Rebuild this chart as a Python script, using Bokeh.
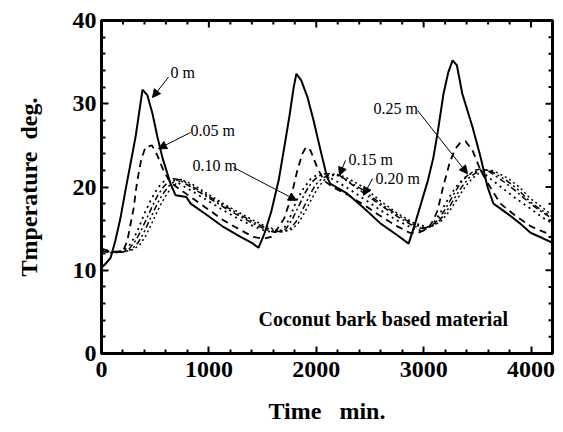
import math
from bokeh.plotting import figure
from bokeh.models import Range1d, FixedTicker, Label, Arrow, NormalHead
from bokeh.embed import file_html
from bokeh.resources import INLINE

# ---- data ----
t_0m = [0, 40, 85, 130, 177, 223, 270, 317, 382, 428, 475, 521, 568, 614, 643, 690, 790, 830, 985, 1135,
        1295, 1400, 1462, 1520, 1580, 1650, 1700, 1750, 1790, 1815, 1860, 1918, 1975, 2040, 2100, 2130, 2290, 2440, 2600, 2755,
        2860, 2920, 2980, 3040, 3090, 3130, 3185, 3230, 3270, 3310, 3360, 3455, 3530, 3595, 3650, 3780, 3900, 3995, 4100, 4200]
T_0m = [10.3, 10.8, 11.5, 13.6, 16.3, 19.6, 22.8, 26.0, 31.7, 31.0, 28.8, 26.0, 23.5, 21.6, 20.4, 19.0, 18.8, 18.0, 16.6, 15.2,
        14.0, 13.3, 12.7, 14.5, 17.0, 20.8, 24.6, 28.5, 32.0, 33.6, 32.8, 30.8, 28.0, 24.4, 21.2, 20.4, 19.2, 17.5, 15.6, 14.2,
        13.2, 15.6, 18.2, 20.8, 23.5, 26.5, 31.2, 33.8, 35.2, 34.6, 31.2, 27.2, 23.6, 20.0, 18.0, 16.8, 15.6, 14.5, 13.9, 13.3]

t_005 = [0, 100, 200, 240, 270, 300, 330, 370, 410, 470, 520, 570, 620, 660, 720, 830, 985, 1135, 1300, 1415,
         1510, 1580, 1640, 1700, 1760, 1820, 1870, 1905, 1946, 2010, 2070, 2150, 2300, 2450, 2600, 2750, 2870, 2950, 3040, 3090,
         3130, 3185, 3240, 3290, 3340, 3390, 3455, 3530, 3595, 3715, 3850, 3995, 4100, 4200]
T_005 = [12.6, 12.2, 12.3, 13.5, 15.5, 17.5, 20.5, 23.3, 24.8, 25.0, 23.8, 22.2, 21.0, 20.4, 19.8, 18.8, 17.4, 16.0, 14.8, 14.0,
         13.8, 14.0, 15.0, 16.2, 18.5, 21.8, 24.0, 24.8, 24.4, 22.3, 20.8, 20.0, 19.0, 17.8, 16.5, 15.3, 14.5, 14.5, 15.0, 16.0,
         17.2, 20.2, 22.8, 24.5, 25.3, 25.5, 24.4, 22.0, 20.5, 18.0, 16.6, 15.3, 14.7, 14.2]

t_010 = [0, 100, 200, 250, 300, 350, 400, 450, 500, 550, 600, 640, 700, 830, 985, 1135, 1300, 1415, 1510, 1580,
         1640, 1700, 1760, 1816, 1880, 1950, 2000, 2050, 2100, 2200, 2300, 2440, 2600, 2750, 2905, 2970, 3030, 3100, 3160, 3230,
         3300, 3370, 3440, 3500, 3550, 3600, 3700, 3840, 3995, 4100, 4200]
T_010 = [12.4, 12.2, 12.3, 12.8, 13.8, 15.2, 16.8, 18.2, 19.4, 20.3, 20.9, 21.0, 20.6, 19.6, 18.4, 17.2, 16.0, 15.3, 14.8, 14.6,
         14.6, 15.0, 16.5, 18.4, 19.8, 21.0, 21.4, 21.5, 21.3, 20.6, 19.8, 18.6, 17.2, 16.0, 15.0, 14.8, 15.0, 15.8, 17.0, 18.6,
         20.0, 21.0, 21.6, 21.9, 21.8, 21.2, 20.2, 18.8, 17.4, 16.4, 15.6]

t_015 = [0, 100, 200, 260, 320, 370, 420, 470, 520, 570, 620, 670, 720, 830, 985, 1135, 1300, 1415, 1510, 1600,
         1660, 1720, 1780, 1840, 1900, 1960, 2020, 2080, 2140, 2216, 2300, 2440, 2600, 2750, 2905, 2990, 3060, 3130, 3200, 3270,
         3340, 3410, 3480, 3540, 3590, 3650, 3750, 3850, 3995, 4100, 4200]
T_015 = [12.3, 12.1, 12.2, 12.6, 13.6, 14.8, 16.2, 17.6, 18.9, 19.9, 20.6, 21.0, 20.9, 20.0, 18.8, 17.6, 16.4, 15.6, 15.0, 14.6,
         14.6, 15.0, 16.2, 17.8, 19.4, 20.6, 21.3, 21.6, 21.6, 21.4, 20.6, 19.3, 17.8, 16.5, 15.3, 15.0, 15.2, 16.0, 17.3, 18.9,
         20.4, 21.4, 22.0, 22.2, 22.0, 21.5, 20.6, 19.6, 18.0, 17.0, 16.2]

t_020 = [0, 100, 200, 280, 340, 390, 440, 490, 540, 590, 640, 690, 740, 830, 985, 1135, 1300, 1415, 1510, 1620,
         1690, 1750, 1810, 1870, 1930, 1990, 2050, 2110, 2170, 2250, 2350, 2440, 2600, 2750, 2905, 3010, 3080, 3150, 3220, 3290,
         3360, 3430, 3500, 3560, 3610, 3670, 3770, 3870, 3995, 4100, 4200]
T_020 = [12.3, 12.1, 12.2, 12.5, 13.3, 14.4, 15.8, 17.2, 18.5, 19.5, 20.3, 20.8, 20.9, 20.2, 19.0, 17.8, 16.6, 15.8, 15.2, 14.7,
         14.6, 14.9, 15.8, 17.2, 18.8, 20.2, 21.0, 21.4, 21.5, 21.1, 20.3, 19.6, 18.0, 16.7, 15.5, 15.1, 15.3, 16.0, 17.2, 18.7,
         20.1, 21.2, 21.8, 22.1, 22.0, 21.6, 20.8, 19.8, 18.2, 17.2, 16.4]

t_025 = [0, 100, 200, 300, 360, 410, 460, 510, 560, 610, 660, 710, 760, 850, 985, 1135, 1300, 1415, 1510, 1640,
         1710, 1770, 1830, 1890, 1950, 2010, 2070, 2130, 2190, 2270, 2370, 2460, 2600, 2750, 2905, 3030, 3100, 3170, 3240, 3310,
         3380, 3450, 3520, 3580, 3630, 3690, 3790, 3890, 3995, 4100, 4200]
T_025 = [12.3, 12.1, 12.2, 12.5, 13.1, 14.1, 15.4, 16.8, 18.1, 19.2, 20.0, 20.6, 20.8, 20.3, 19.2, 18.0, 16.8, 16.0, 15.4, 14.8,
         14.7, 14.9, 15.6, 16.9, 18.4, 19.8, 20.8, 21.3, 21.5, 21.2, 20.5, 19.8, 18.3, 16.9, 15.7, 15.2, 15.4, 16.0, 17.1, 18.5,
         19.9, 21.0, 21.7, 22.0, 22.0, 21.7, 21.0, 20.0, 18.6, 17.6, 16.6]

label_texts = ["0 m", "0.05 m", "0.10 m", "0.15 m", "0.20 m", "0.25 m"]
label_x = [643, 829, 847, 2300, 2552, 2533]
label_y = [33.75, 26.8, 22.6, 23.3, 21.0, 29.4]
arrow_x0 = [624, 829, 1229, 2272, 2524, 2943]
arrow_y0 = [33.2, 26.55, 22.35, 23.2, 21.0, 29.2]
arrow_x1 = [475, 531, 1816, 2216, 2440, 3408]
arrow_y1 = [30.75, 24.6, 18.4, 21.4, 19.0, 21.6]

x_major = [0, 1000, 2000, 3000, 4000]
x_minor = [v for v in range(0, 4201, 200) if v % 1000 != 0]
y_major = [0, 10, 20, 30, 40]
y_minor = [v for v in range(0, 41, 2) if v % 10 != 0]
x_max = 4200
y_max = 40
x_title = "Time\u00a0\u00a0 min."
y_title = "Tmperature\u00a0 deg."

FONT = "Liberation Serif"

p = figure(width=563, height=432, output_backend="svg", toolbar_location=None,
           x_range=Range1d(0, x_max), y_range=Range1d(0, y_max),
           min_border_left=101, min_border_right=11, min_border_top=20, min_border_bottom=79)
p.background_fill_color = "white"
p.border_fill_color = "white"
p.outline_line_color = "black"
p.outline_line_width = 3
p.xgrid.visible = False
p.ygrid.visible = False

series = [
    (t_0m, T_0m, None, 2.0),
    (t_005, T_005, "7 5", 1.8),
    (t_010, T_010, "2 4", 1.8),
    (t_015, T_015, "6 3 2 3", 1.5),
    (t_020, T_020, "6 3 2 3 2 3", 1.5),
    (t_025, T_025, "2 3", 1.5),
]
for tx, ty, dash, lw in series:
    if dash is None:
        p.line(tx, ty, line_color="black", line_width=lw)
    else:
        p.line(tx, ty, line_color="black", line_width=lw, line_dash=dash)

for ax in (p.xaxis[0], p.yaxis[0]):
    ax.axis_line_width = 3
    ax.axis_line_color = "black"
    ax.major_tick_in = 7
    ax.major_tick_out = 0
    ax.minor_tick_in = 4
    ax.minor_tick_out = 0
    ax.major_tick_line_width = 2
    ax.minor_tick_line_width = 2
    ax.major_tick_line_color = "black"
    ax.minor_tick_line_color = "black"
    ax.major_label_text_font = FONT
    ax.major_label_text_font_style = "bold"
    ax.major_label_text_font_size = "24px"
    ax.major_label_text_color = "black"
    ax.axis_label_text_font = FONT
    ax.axis_label_text_font_style = "bold"
    ax.axis_label_text_font_size = "24px"
    ax.axis_label_text_color = "black"

p.xaxis.ticker = FixedTicker(ticks=x_major, minor_ticks=x_minor)
p.yaxis.ticker = FixedTicker(ticks=y_major, minor_ticks=y_minor)
p.xaxis.major_label_standoff = 8
p.yaxis.major_label_standoff = 5
p.xaxis.axis_label = x_title
p.yaxis.axis_label = y_title
p.xaxis.axis_label_standoff = 18
p.yaxis.axis_label_standoff = 28

# mirrored ticks on top and right edges
p.ray(x=x_major, y=[y_max] * len(x_major), length=7, angle=-math.pi / 2, length_units="screen",
      line_color="black", line_width=2)
p.ray(x=x_minor, y=[y_max] * len(x_minor), length=4, angle=-math.pi / 2, length_units="screen",
      line_color="black", line_width=2)
p.ray(x=[x_max] * len(y_major), y=y_major, length=7, angle=math.pi, length_units="screen",
      line_color="black", line_width=2)
p.ray(x=[x_max] * len(y_minor), y=y_minor, length=4, angle=math.pi, length_units="screen",
      line_color="black", line_width=2)

for txt, lx, ly in zip(label_texts, label_x, label_y):
    p.add_layout(Label(x=lx, y=ly, text=txt, text_font=FONT, text_font_size="16px",
                       text_baseline="middle", text_align="left", text_color="black"))

for x0, y0, x1, y1 in zip(arrow_x0, arrow_y0, arrow_x1, arrow_y1):
    p.add_layout(Arrow(x_start=x0, y_start=y0, x_end=x1, y_end=y1, line_width=1, line_color="black",
                       end=NormalHead(size=8, fill_color="black", line_color="black")))

p.add_layout(Label(x=1462, y=4.2, text="Coconut bark based material", text_font=FONT,
                   text_font_style="bold", text_font_size="20px", text_baseline="middle",
                   text_align="left", text_color="black"))

open("out.html", "w").write(file_html(p, INLINE))
